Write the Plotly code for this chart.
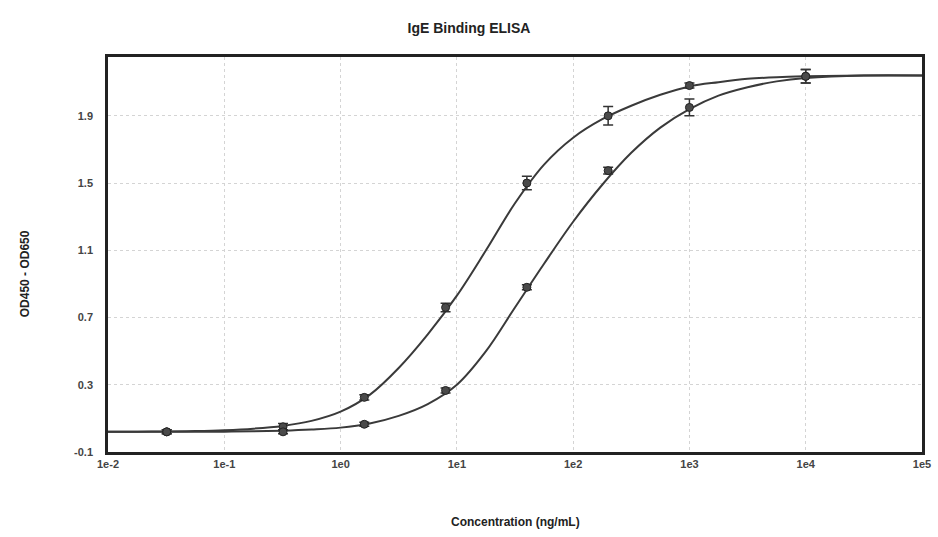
import plotly.graph_objects as go

# measured points
conc = [0.032, 0.32, 1.6, 8, 40, 200, 1000, 10000]
od_a = [0.02, 0.05, 0.225, 0.76, 1.50, 1.90, 2.08, 2.135]
err_a = [0.012, 0.02, 0.015, 0.025, 0.04, 0.055, 0.015, 0.04]
od_b = [0.02, 0.02, 0.065, 0.266, 0.88, 1.574, 1.95, 2.135]
err_b = [0.012, 0.012, 0.012, 0.015, 0.015, 0.02, 0.05, 0.04]

# fitted curves (quarter-decade steps)
curve_x = [0.01, 0.0178, 0.0316, 0.0562, 0.1, 0.178, 0.316, 0.562, 1, 1.78, 3.16, 5.62, 10, 17.8, 31.6, 56.2,
           100, 178, 316, 562, 1000, 1778, 3162, 5623, 10000, 31623, 100000]
curve_a = [0.020, 0.021, 0.022, 0.025, 0.030, 0.039, 0.055, 0.085, 0.14, 0.24, 0.40, 0.60, 0.83, 1.10, 1.38, 1.61,
           1.77, 1.88, 1.96, 2.025, 2.075, 2.10, 2.12, 2.13, 2.135, 2.14, 2.14]
curve_b = [0.020, 0.020, 0.020, 0.020, 0.021, 0.023, 0.027, 0.034, 0.045, 0.07, 0.115, 0.185, 0.30, 0.50, 0.76, 1.02,
           1.27, 1.49, 1.68, 1.83, 1.94, 2.02, 2.07, 2.105, 2.125, 2.14, 2.14]

x_tickvals = [0.01, 0.1, 1, 10, 100, 1000, 10000, 100000]
x_ticktext = ["<b>1e-2</b>", "<b>1e-1</b>", "<b>1e0</b>", "<b>1e1</b>", "<b>1e2</b>", "<b>1e3</b>", "<b>1e4</b>", "<b>1e5</b>"]
y_tickvals = [-0.1, 0.3, 0.7, 1.1, 1.5, 1.9]
y_ticktext = ["<b>-0.1</b>", "<b>0.3</b>", "<b>0.7</b>", "<b>1.1</b>", "<b>1.5</b>", "<b>1.9</b>"]

line_col = "#3a3a3a"
fig = go.Figure()
for cy in (curve_a, curve_b):
    fig.add_trace(go.Scatter(x=curve_x, y=cy, mode="lines", line=dict(color=line_col, width=2, shape="spline", smoothing=1.0),
                             showlegend=False, hoverinfo="skip"))
for yv, ev in ((od_a, err_a), (od_b, err_b)):
    fig.add_trace(go.Scatter(x=conc, y=yv, mode="markers",
                             marker=dict(color="#4a4a4a", size=8, line=dict(color="#222", width=1)),
                             error_y=dict(type="data", array=ev, color="#333", thickness=1.5, width=5),
                             showlegend=False))

font = "Liberation Sans, Arial, sans-serif"
fig.update_layout(
    width=938, height=537,
    margin=dict(l=108, r=16, t=57, b=85),
    paper_bgcolor="white", plot_bgcolor="white",
    font=dict(family=font, color="#333"),
    title=dict(text="<b>IgE Binding ELISA</b>", x=0.5, xanchor="center", y=1 - 28 / 537, yanchor="middle",
               font=dict(size=14, color="#222", family=font)),
    xaxis=dict(type="log", range=[-2, 5], tickvals=x_tickvals, ticktext=x_ticktext, ticklabeloverflow="allow",
               automargin=False,
               showline=True, linecolor="#222", linewidth=2.5, mirror=True,
               showgrid=True, gridcolor="#d4d4d4", griddash="dot", gridwidth=1,
               ticks="", tickfont=dict(size=11, color="#444", family=font), zeroline=False),
    yaxis=dict(range=[-0.1, 2.25], tickvals=y_tickvals, ticktext=y_ticktext, automargin=False,
               showline=True, linecolor="#222", linewidth=2.5, mirror=True,
               showgrid=True, gridcolor="#d4d4d4", griddash="dot", gridwidth=1,
               ticks="", ticklabelstandoff=10, tickfont=dict(size=11, color="#444", family=font), zeroline=False),
    annotations=[
        dict(text="<b>Concentration (ng/mL)</b>", xref="paper", yref="paper", x=0.5, y=0, yshift=-70,
             showarrow=False, font=dict(size=12, color="#222", family=font), xanchor="center", yanchor="middle"),
        dict(text="<b>OD450 - OD650</b>", xref="paper", yref="paper", x=0, xshift=-83, y=0.45,
             showarrow=False, textangle=-90, font=dict(size=12, color="#222", family=font), xanchor="center", yanchor="middle"),
    ],
)
fig.write_html("out.html")
